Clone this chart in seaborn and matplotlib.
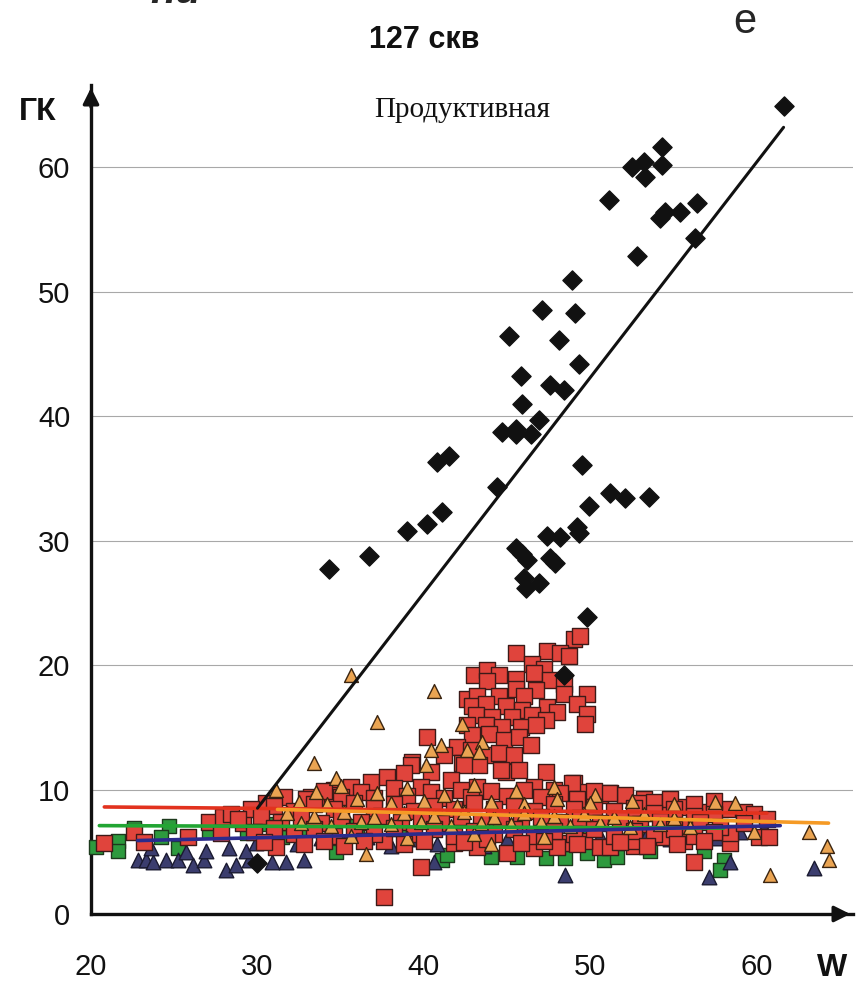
import numpy as np
import seaborn as sns
import matplotlib.pyplot as plt

sns.set_style('white')
plt.rcParams['font.family'] = ['Liberation Sans', 'DejaVu Sans']

# ---- data: (W, GK) pairs ----
black_pts = [
    (61.6, 64.9), (54.3, 61.6), (52.5, 60.0), (53.2, 60.4), (54.3, 60.2), (53.3, 59.2),
    (51.1, 57.4), (54.5, 56.4), (54.2, 55.9), (55.4, 56.4), (56.4, 57.1), (56.3, 54.3),
    (52.8, 52.9), (48.9, 50.9), (47.1, 48.5), (49.1, 48.3), (45.1, 46.4), (48.1, 46.1),
    (49.3, 44.2), (45.8, 43.2), (47.6, 42.5), (48.4, 42.1), (45.9, 41.0), (46.9, 39.7),
    (44.7, 38.7), (45.5, 39.0), (45.5, 38.6), (46.4, 38.6), (40.8, 36.3), (41.5, 36.8),
    (49.5, 36.1), (44.4, 34.3), (51.2, 33.8), (52.1, 33.4), (53.5, 33.5), (49.9, 32.8),
    (41.1, 32.3), (40.2, 31.3), (39.0, 30.8), (49.2, 31.1), (49.3, 30.6), (47.4, 30.4),
    (48.2, 30.3), (45.5, 29.4), (45.9, 28.9), (46.2, 28.4), (47.6, 28.6), (47.9, 28.2),
    (36.7, 28.8), (34.3, 27.7), (46.0, 27.0), (46.9, 26.6), (46.1, 26.2), (49.8, 23.9),
    (48.4, 19.2), (30.0, 4.1),
]

red_pts = [
    # upper cluster
    (49.0, 22.1), (49.4, 22.3), (45.5, 21.0), (47.4, 21.1), (48.2, 21.0), (48.7, 20.7),
    (46.5, 20.1), (47.2, 19.7), (43.0, 19.2), (43.8, 19.6), (44.5, 19.2), (45.5, 18.9),
    (46.6, 19.4), (47.6, 18.8), (48.4, 18.5), (43.8, 18.7), (45.5, 18.1), (46.7, 18.0),
    (49.8, 17.7), (48.4, 17.7), (42.6, 17.3), (43.2, 17.5), (44.5, 17.5), (46.0, 17.5),
    (49.2, 16.9), (42.9, 16.7), (43.7, 16.9), (44.9, 16.7), (45.9, 16.4), (47.4, 16.6),
    (48.0, 16.2), (49.8, 16.1), (43.1, 16.0), (44.1, 15.8), (45.3, 15.8), (46.5, 16.0),
    (49.7, 15.3), (47.3, 15.6), (42.6, 15.2), (43.7, 15.2), (44.7, 15.0), (45.8, 15.0),
    (46.7, 15.2), (40.2, 14.2), (42.9, 14.4), (43.9, 14.5), (44.8, 14.0), (45.7, 14.2),
    (46.4, 13.6), (42.0, 13.4), (42.8, 13.2), (43.9, 12.8), (44.5, 12.9), (45.4, 12.8),
    (41.2, 12.8), (39.3, 12.2), (42.3, 12.1), (43.3, 12.0), (44.9, 11.4), (45.7, 11.6),
    (47.3, 11.4), (40.4, 11.4), (39.2, 12.0), (42.4, 12.0),
    # top of the band
    (36.8, 10.6), (37.8, 11.0), (38.8, 11.3), (44.6, 11.6), (49.0, 10.5), (49.8, 9.8),
    (51.2, 9.7), (52.1, 9.6), (53.2, 9.2), (34.6, 10.0), (33.2, 9.4), (35.6, 10.2),
    (39.8, 10.2), (41.6, 10.8), (43.2, 10.2), (46.6, 10.2), (47.8, 10.0), (50.6, 9.6),
    (48.9, 10.5), (51.1, 9.7), (53.0, 8.9), (54.2, 8.8), (55.6, 8.6), (57.0, 8.2),
    (58.2, 8.4), (59.2, 8.2), (60.1, 6.2), (60.7, 6.2),
    # lower and stray
    (43.2, 5.4), (45.0, 4.9), (46.6, 5.3), (48.6, 5.7), (50.6, 5.4), (52.6, 5.5),
    (41.8, 5.7), (39.8, 3.8), (37.6, 1.4), (37.6, 5.9), (56.2, 4.2), (58.4, 5.7),
    (58.4, 6.5), (55.6, 5.9), (54.4, 6.2), (52.6, 5.9), (51.2, 5.4), (49.6, 5.9), (48.0, 5.4),
    # left end
    (20.8, 5.7), (22.6, 6.6), (23.2, 5.8), (25.8, 6.2), (27.1, 7.4), (27.9, 7.8),
    (28.4, 8.0), (27.8, 6.5), (29.1, 7.3), (31.1, 5.4), (32.9, 9.2), (33.7, 9.0), (34.5, 9.6),
    # main band
    (30.5, 8.9), (31.6, 9.4), (34.0, 9.9), (35.0, 9.4), (36.2, 9.8), (37.0, 9.3), (38.2, 10.1),
    (39.0, 9.5), (40.4, 9.8), (41.2, 9.3), (42.2, 10.0), (42.8, 9.4), (44.0, 9.9), (45.0, 9.5),
    (46.0, 10.0), (47.0, 9.4), (48.2, 9.7), (49.2, 9.2), (50.2, 9.9), (53.8, 9.0), (54.8, 9.2),
    (56.2, 8.8), (57.4, 9.1),
    (29.6, 8.4), (31.0, 8.7), (32.2, 8.3), (33.4, 8.8), (34.6, 8.4), (35.8, 8.9), (37.0, 8.5),
    (38.2, 8.8), (39.4, 8.3), (40.6, 8.7), (41.8, 8.4), (43.0, 8.9), (44.2, 8.4), (45.4, 8.7),
    (46.6, 8.3), (47.8, 8.8), (49.0, 8.4), (50.2, 8.6), (51.4, 8.3), (52.6, 8.5), (53.8, 8.1),
    (55.0, 8.4), (56.2, 7.9), (57.4, 8.0), (59.8, 8.0), (60.6, 7.6),
    (28.8, 7.6), (30.2, 7.9), (31.4, 7.4), (32.6, 7.8), (33.8, 7.3), (35.0, 7.7), (36.2, 7.4),
    (37.4, 7.9), (38.6, 7.4), (39.8, 7.7), (41.0, 7.3), (42.2, 7.8), (43.4, 7.4), (44.6, 7.7),
    (45.8, 7.3), (47.0, 7.8), (48.2, 7.4), (49.4, 7.7), (50.6, 7.3), (51.8, 7.6), (53.0, 7.2),
    (54.2, 7.5), (55.4, 7.1), (56.6, 7.4), (57.8, 7.0), (59.2, 7.3),
    (29.8, 6.6), (31.0, 6.9), (32.2, 6.4), (33.4, 6.8), (34.6, 6.3), (35.8, 6.7), (37.0, 6.4),
    (38.2, 6.9), (39.4, 6.4), (40.6, 6.8), (41.8, 6.3), (43.0, 6.7), (44.2, 6.4), (45.4, 6.8),
    (46.6, 6.3), (47.8, 6.7), (49.0, 6.4), (50.2, 6.8), (51.4, 6.3), (52.6, 6.7), (53.8, 6.4),
    (55.0, 6.8), (56.2, 6.3), (57.4, 6.6),
    (30.4, 5.8), (32.8, 5.6), (34.0, 5.9), (35.2, 5.5), (36.4, 5.9), (38.8, 5.6), (40.0, 5.9),
    (42.4, 5.8), (43.8, 6.0), (45.8, 5.7), (47.2, 5.9), (49.2, 5.6), (51.8, 5.8), (53.4, 5.5),
    (55.2, 5.6), (56.8, 5.9),
]

orange_pts = [
    (35.6, 19.2), (40.6, 17.9), (37.2, 15.4), (33.4, 12.1), (34.7, 10.9), (31.1, 10.0),
    (42.3, 15.3), (41.0, 13.6), (42.6, 13.2), (43.5, 13.8), (43.3, 13.0), (40.4, 13.2),
    (40.1, 12.0), (58.7, 8.9), (59.8, 6.6), (60.8, 3.1), (63.1, 6.6), (64.2, 5.5), (64.3, 4.3),
    (33.5, 9.8), (35.0, 10.3), (37.2, 9.7), (39.0, 10.1), (41.2, 9.6), (43.0, 10.4), (45.5, 9.9),
    (47.8, 10.2), (50.3, 9.6),
    (32.5, 9.0), (34.2, 8.8), (36.0, 9.2), (38.0, 8.9), (40.0, 9.1), (42.0, 8.7), (44.0, 9.0),
    (46.0, 8.8), (48.0, 9.2), (50.0, 8.9), (52.5, 9.1), (55.0, 8.8), (57.5, 9.0),
    (31.8, 8.1), (33.4, 7.9), (35.2, 8.2), (37.0, 7.8), (38.8, 8.1), (40.6, 7.9), (42.4, 8.2),
    (44.2, 7.8), (46.0, 8.1), (47.8, 7.9), (49.6, 8.0), (51.4, 7.8), (53.2, 8.0), (55.0, 7.7),
    (32.6, 7.3), (34.4, 7.1), (36.2, 7.4), (38.0, 7.2), (39.8, 7.4), (41.6, 7.1), (43.4, 7.3),
    (45.2, 7.2), (47.0, 7.4), (48.8, 7.1), (50.6, 7.3), (52.4, 7.0), (54.2, 7.2), (56.0, 7.0),
    (35.6, 6.3), (39.0, 6.1), (43.0, 6.4), (47.2, 6.2), (36.5, 4.8), (44.0, 5.6),
]

navy_pts = [
    (22.8, 4.3), (23.3, 4.3), (23.7, 4.2), (24.5, 4.3), (25.2, 4.3), (26.1, 3.9), (26.8, 4.3),
    (28.1, 3.5), (28.7, 3.9), (29.5, 4.3), (30.9, 4.2), (31.7, 4.2), (32.8, 4.3),
    (23.6, 5.3), (25.7, 5.0), (26.9, 5.1), (28.3, 5.3), (29.3, 5.1), (29.9, 5.7),
    (48.5, 3.1), (57.1, 3.0), (58.4, 4.2), (63.4, 3.7), (40.6, 4.2),
    (31.0, 6.0), (32.4, 5.6), (33.8, 6.1), (35.2, 5.7), (36.6, 6.2), (38.0, 5.5), (39.4, 6.0),
    (40.8, 5.6), (42.2, 6.1), (43.6, 5.5), (45.0, 6.0), (46.4, 5.7), (47.8, 6.2), (49.2, 5.8),
    (50.6, 6.3), (52.0, 5.9), (53.4, 6.4), (54.8, 6.0), (56.2, 6.5), (57.6, 6.1), (59.0, 6.6),
    (60.4, 6.9),
]

green_pts = [
    (20.3, 5.4), (21.6, 5.9), (21.6, 5.1), (22.6, 6.9), (24.7, 7.1), (24.2, 6.2), (25.2, 5.3),
    (27.1, 6.7), (29.4, 6.5), (31.5, 6.2), (34.7, 5.0), (41.1, 4.3), (41.4, 4.7), (44.0, 4.6),
    (45.6, 4.6), (47.3, 4.5), (48.5, 4.5), (50.8, 4.3), (49.8, 4.9), (51.6, 4.6), (53.6, 5.1),
    (56.8, 5.1), (58.0, 4.3), (57.8, 3.5),
    (30.5, 7.2), (33.0, 6.9), (36.0, 7.1), (38.5, 6.8), (41.0, 7.0), (44.0, 6.7), (47.0, 7.0),
    (50.0, 6.8), (53.0, 6.9), (56.0, 6.6),
]

# trend lines: end points (W) and (GK)
black_line = ([30.0, 61.6], [8.5, 63.2])
red_line = ([20.8, 60.6], [8.6, 8.1])
orange_line = ([31.2, 64.3], [8.4, 7.3])
green_line = ([20.5, 58.0], [7.1, 6.9])
navy_line = ([22.8, 61.4], [5.9, 7.1])

yticks = [0, 10, 20, 30, 40, 50, 60]
xticks = [20, 30, 40, 50, 60]

# ---- figure ----
fig = plt.figure(figsize=(8.56, 9.86), dpi=100)
ax = fig.add_axes([91 / 856, 72 / 986, 762 / 856, 829 / 986])


def scat(pts, marker, size, face, edge):
    xy = np.array(pts)
    sns.scatterplot(x=xy[:, 0], y=xy[:, 1], marker=marker, s=size, color=face,
                    edgecolor=edge, linewidth=1.0, ax=ax, zorder=3, clip_on=False)


scat(green_pts, 's', 115, '#2d9a3e', '#1d3a1d')
scat(navy_pts, '^', 110, '#3b3d6e', '#1a1a30')
scat(red_pts, 's', 125, '#e0443c', '#3c1a18')
scat(orange_pts, '^', 100, '#eaa452', '#3a2410')
scat(black_pts, 'D', 95, '#111111', '#111111')

for (lx, ly), c, w in [(red_line, '#e2321e', 2.6), (green_line, '#22a533', 2.6),
                       (navy_line, '#2b2b8c', 2.6), (orange_line, '#f59a25', 2.6),
                       (black_line, '#111111', 2.2)]:
    sns.lineplot(x=lx, y=ly, color=c, lw=w, ax=ax, zorder=4)

ax.set_xlim(20, 65.77)
ax.set_ylim(0, 66.6)
ax.set_xticks(xticks)
ax.set_yticks(yticks)
ax.set_xlabel('')
ax.set_ylabel('')

# grid only horizontal
ax.yaxis.grid(True, color='#a8a8a8', lw=0.8)
ax.xaxis.grid(False)
ax.set_axisbelow(True)

for s in ['top', 'right']:
    ax.spines[s].set_visible(False)
for s in ['left', 'bottom']:
    ax.spines[s].set_linewidth(2.4)
    ax.spines[s].set_color('#111111')

ax.tick_params(axis='both', direction='out', length=5, width=2, colors='#111111',
               labelsize=21)
ax.tick_params(axis='y', pad=10)
ax.tick_params(axis='x', pad=23)

# arrow heads
ax.annotate('', xy=(0, 1.0), xytext=(0, 0.97), xycoords='axes fraction',
            arrowprops=dict(arrowstyle='-|>', color='#111111', lw=2.4, mutation_scale=24))
ax.annotate('', xy=(1.0, 0), xytext=(0.97, 0), xycoords='axes fraction',
            arrowprops=dict(arrowstyle='-|>', color='#111111', lw=2.4, mutation_scale=24))

# texts
fig.text(424 / 856, 1 - 40 / 986, '127 скв', ha='center', va='center',
         fontsize=22, fontweight='bold', color='#111111')
fig.text(462 / 856, 1 - 110 / 986, 'Продуктивная', ha='center', va='center',
         fontsize=21, family=['Liberation Serif', 'DejaVu Serif'], color='#111111')
fig.text(38 / 856, 1 - 112 / 986, 'ГК', ha='center', va='center',
         fontsize=23, fontweight='bold', color='#111111')
fig.text(832 / 856, 1 - 968 / 986, 'W', ha='center', va='center',
         fontsize=23, fontweight='bold', color='#111111')
fig.text(745 / 856, 1 - 22 / 986, 'е', ha='center', va='center', fontsize=30)
fig.text(150 / 856, 1 - 3 / 986, 'пи', ha='left', va='baseline', fontsize=30,
         fontweight='bold', style='italic')

fig.savefig('out.png', dpi=100)
